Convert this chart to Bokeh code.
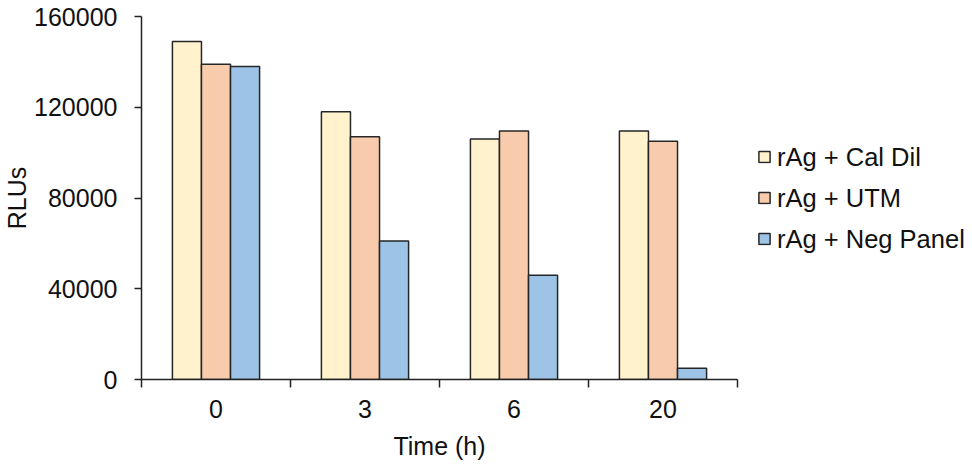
from bokeh.plotting import figure
from bokeh.models import (ColumnDataSource, FixedTicker, Legend, LegendItem,
                          BasicTickFormatter, Range1d)
from bokeh.embed import file_html
from bokeh.resources import INLINE

categories = ["0", "3", "6", "20"]
series_names = ["rAg + Cal Dil", "rAg + UTM", "rAg + Neg Panel"]
cal_dil = [149000, 118000, 106000, 109500]
utm = [139000, 107000, 109500, 105000]
neg_panel = [138000, 61000, 46000, 5000]
y_ticks = [0, 40000, 80000, 120000, 160000]

colors = ["#FFF2CC", "#F8CBAD", "#9DC3E6"]
series = [cal_dil, utm, neg_panel]
bar_w = 0.195
offsets = [-bar_w, 0.0, bar_w]
centers = [i + 0.5 for i in range(len(categories))]

FONT = "Liberation Sans"
FS = "25px"

p = figure(frame_width=596, frame_height=363, output_backend="svg", toolbar_location=None,
           x_range=Range1d(0, len(categories)), y_range=Range1d(0, 160000),
           min_border_left=135, min_border_right=226, min_border_top=16,
           min_border_bottom=60)
p.outline_line_color = None
p.xgrid.grid_line_color = None
p.ygrid.grid_line_color = None

items = []
for name, vals, col, off in zip(series_names, series, colors, offsets):
    src = ColumnDataSource(dict(x=[c + off for c in centers], top=vals))
    r = p.vbar(x="x", top="top", width=bar_w, bottom=0, source=src,
               fill_color=col, line_color="#262626", line_width=1.5)
    items.append(LegendItem(label=name, renderers=[r]))

# x axis
p.xaxis.ticker = FixedTicker(ticks=centers, minor_ticks=list(range(len(categories) + 1)))
p.xaxis.major_label_overrides = {c: lab for c, lab in zip(centers, categories)}
p.xaxis.major_tick_line_color = None
p.xaxis.major_tick_out = 8
p.xaxis.major_tick_in = 0
p.xaxis.minor_tick_line_color = "#222222"
p.xaxis.minor_tick_line_width = 1.5
p.xaxis.minor_tick_out = 8
p.xaxis.minor_tick_in = 0
p.xaxis.major_label_standoff = 12
p.xaxis.axis_label = "Time (h)"
p.xaxis.axis_label_standoff = 11

# y axis
p.yaxis.ticker = FixedTicker(ticks=y_ticks, minor_ticks=[])
p.yaxis.formatter = BasicTickFormatter(use_scientific=False)
p.yaxis.major_tick_out = 7
p.yaxis.major_tick_in = 0
p.yaxis.major_tick_line_width = 1.5
p.yaxis.major_tick_line_color = "#222222"
p.yaxis.major_label_standoff = 17
p.yaxis.axis_label = "RLUs"
p.yaxis.axis_label_standoff = 0

for ax in (p.xaxis[0], p.yaxis[0]):
    ax.axis_line_color = "#222222"
    ax.axis_line_width = 1.5
    ax.major_label_text_font = FONT
    ax.major_label_text_font_size = FS
    ax.major_label_text_color = "#111111"
    ax.axis_label_text_font = FONT
    ax.axis_label_text_font_size = FS
    ax.axis_label_text_font_style = "normal"
    ax.axis_label_text_color = "#111111"

legend = Legend(items=items, location="center_left", orientation="vertical",
                label_text_font=FONT, label_text_font_size="25.5px",
                label_text_color="#111111",
                glyph_width=14, glyph_height=14, label_height=28,
                label_standoff=6, spacing=12, padding=0, margin=20,
                border_line_color=None, background_fill_alpha=0)
p.add_layout(legend, "right")

open("out.html", "w").write(file_html(p, INLINE))
